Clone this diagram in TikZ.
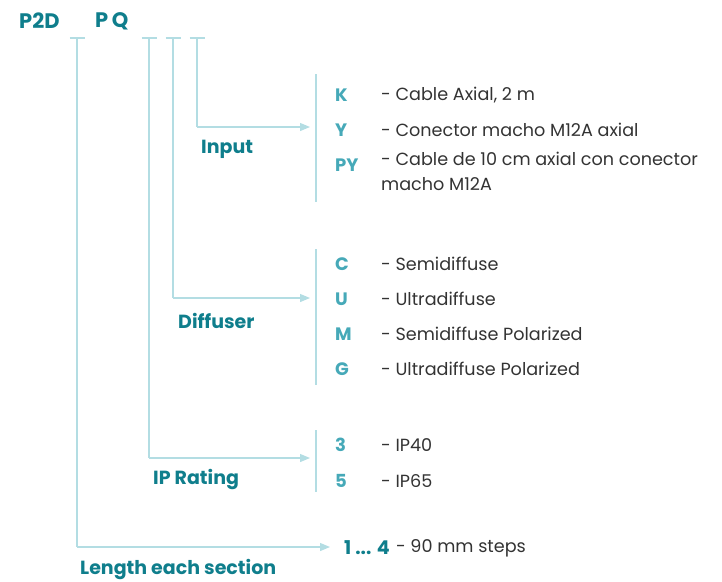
\documentclass[tikz,border=0pt]{standalone}
\usepackage{fontspec}
\setmainfont{Poppins}
\usepackage{xcolor}
\usetikzlibrary{arrows.meta, positioning}
\definecolor{darkteal}{HTML}{0F7E8C}
\definecolor{lightteal}{HTML}{46A9B8}
\definecolor{paleteal}{HTML}{B3DDE3}
\definecolor{txtgray}{HTML}{333333}

\begin{document}
\begin{tikzpicture}[x=1pt,y=-1pt,
    code/.style={anchor=west,inner sep=0pt,text=lightteal,font=\fontsize{18}{20}\selectfont\bfseries},
    desc/.style={anchor=west,inner sep=0pt,text=txtgray,font=\fontsize{17.6}{25}\selectfont,align=left},
    lbl/.style={anchor=west,inner sep=0pt,text=darkteal,font=\fontsize{19}{20}\selectfont\bfseries},
    wire/.style={draw=paleteal,line width=1.2pt},
    arr/.style={wire,-{Triangle[length=10pt,width=8pt]}}]
        \useasboundingbox (0,0) rectangle (722,581);
        % header
        \node[lbl,font=\fontsize{21}{22}\selectfont\bfseries] (p2d) at (19,21) {P2D};
        \node[lbl,font=\fontsize{21}{22}\selectfont\bfseries] (pq) at (95,21) {P\,Q};
        % tick marks
        \begin{scope}
          \coordinate (t1) at (77,38);
          \coordinate (t2) at (149,38);
          \coordinate (t3) at (173,38);
          \coordinate (t4) at (197,38);
          \foreach \t in {t1,t2,t3,t4}
            \draw[wire] ([xshift=-7.5pt]\t) -- ([xshift=7.5pt]\t);
        \end{scope}
        % corners and arrow ends
        \coordinate (c4) at (197,127);  \coordinate (e4) at (310,127);
        \coordinate (c3) at (173,298);  \coordinate (e3) at (310,298);
        \coordinate (c2) at (149,458);  \coordinate (e2) at (310,458);
        \coordinate (c1) at (77,547);   \coordinate (e1) at (330,547);
        \begin{scope}[every edge/.style={wire}]
          \path (t4) edge (c4);
          \path (t3) edge (c3);
          \path (t2) edge (c2);
          \path (t1) edge (c1);
        \end{scope}
        \draw[arr] (c4) -- (e4);
        \draw[arr] (c3) -- (e3);
        \draw[arr] (c2) -- (e2);
        \draw[arr] (c1) -- (e1);
        % group labels
        \node[lbl] (input) at (201,149) {Input};
        \node[lbl] (diff) at (178,321) {Diffuser};
        \node[lbl] (iprat) at (153,479) {IP Rating};
        \node[lbl] (len) at (80,569) {Length each section};
        % brackets
        \coordinate (b1a) at (316,74);  \coordinate (b1b) at (316,202);
        \coordinate (b2a) at (316,249); \coordinate (b2b) at (316,385);
        \coordinate (b3a) at (316,430); \coordinate (b3b) at (316,492);
        \draw[wire] (b1a) -- (b1b);
        \draw[wire] (b2a) -- (b2b);
        \draw[wire] (b3a) -- (b3b);
        % input options
        \node[code] (k) at (335,95) {K};
        \node[code] (y) at (335,130) {Y};
        \node[code] (py) at (335,165) {PY};
        \node[desc] (kd) at (381,95) {- Cable Axial, 2 m};
        \node[desc] (yd) at (381,130) {- Conector macho M12A axial};
        \node[desc,anchor=north west] (pyd) at (381,152) {- Cable de 10 cm axial con conector\\macho M12A};
        % diffuser options
        \node[code] (c) at (335,264) {C};
        \node[code] (u) at (335,299) {U};
        \node[code] (m) at (335,334) {M};
        \node[code] (g) at (335,369) {G};
        \node[desc] (cd) at (381,264) {- Semidiffuse};
        \node[desc] (ud) at (381,299) {- Ultradiffuse};
        \node[desc] (md) at (381,334) {- Semidiffuse Polarized};
        \node[desc] (gd) at (381,369) {- Ultradiffuse Polarized};
        % ip options
        \node[code] (ip3) at (335,445) {3};
        \node[code] (ip5) at (335,481) {5};
        \node[desc] (ip3d) at (381,445) {- IP40};
        \node[desc] (ip5d) at (381,481) {- IP65};
        % length
        \node[code,text=darkteal,font=\fontsize{19}{20}\selectfont\bfseries] (rng) at (344,548) {1 ... 4};
        \node[desc,right=6pt of rng] (rngd) {- 90 mm steps};
\end{tikzpicture}
\end{document}
